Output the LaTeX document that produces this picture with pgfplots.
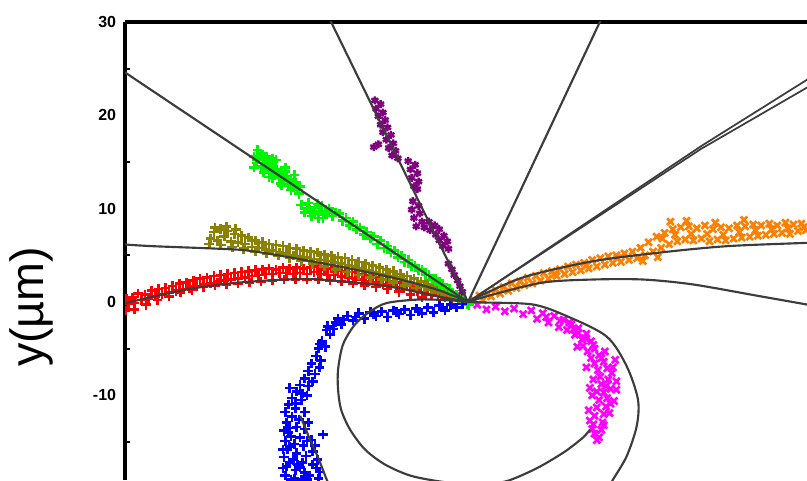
\documentclass[border=0pt]{standalone}
\usepackage{fontspec}
\setmainfont{Liberation Sans}
\usepackage{pgfplots}
\pgfplotsset{compat=1.18}
\definecolor{cRed}{RGB}{255,0,0}
\definecolor{cOlive}{RGB}{140,130,0}
\definecolor{cGreen}{RGB}{0,245,0}
\definecolor{cPurple}{RGB}{128,0,128}
\definecolor{cBlue}{RGB}{0,0,255}
\definecolor{cMag}{RGB}{255,0,255}
\definecolor{cOrange}{RGB}{255,128,0}
\definecolor{cFit}{RGB}{60,60,60}
\begin{document}
\begin{tikzpicture}
\begin{axis}[
  at={(93.75pt,0pt)}, anchor=south west,
  scale only axis, width=511.5pt, height=343.5pt,
  xmin=-29.83, xmax=29.48, ymin=-19.07, ymax=30,
  axis x line*=top, axis y line*=left,
  axis line style={-, line width=2.4pt, black},
  xtick=\empty, minor xtick={-25,-15,-5,5,15,25},
  ytick={-10,0,10,20,30}, yticklabels={-10,0,10,20,30},
  minor ytick={-15,-5,5,15,25},
  major tick length=0pt, minor tick length=4pt,
  tick align=inside,
  every tick/.style={black, line width=1.5pt},
  minor tick style={black, line width=1.5pt},
  yticklabel style={font=\fontsize{12}{12}\selectfont\bfseries, inner sep=0pt, xshift=-6.5pt},
  ylabel={y(µm)},
  ylabel style={at={(axis description cs:-0.137,0.378)}, anchor=center, font=\fontsize{35}{35}\selectfont},
  clip marker paths=true,
]
% red
\addplot[only marks, mark=+, mark size=3.6pt, cRed, mark options={line width=2pt}] coordinates {
(-29.8,-0.9)(-29.7,0.3)(-29.5,-0.2)(-29.2,0.5)(-29.0,-0.1)(-28.7,0.9)(-28.4,0.2)(-28.1,0.8)(-27.8,0.4)(-27.5,1.2)
(-27.2,0.6)(-26.9,1.4)(-26.6,0.8)(-26.3,1.5)(-26.0,1.0)(-25.7,1.7)(-25.4,1.2)(-25.1,2.0)(-24.8,1.4)(-24.5,2.1)
(-24.2,1.5)(-23.9,2.3)(-23.6,1.7)(-23.3,2.5)(-23.0,1.9)(-22.7,2.6)(-22.4,2.0)(-22.1,2.8)(-21.8,2.1)(-21.5,2.9)
(-21.2,2.3)(-20.9,3.0)(-20.6,2.4)(-20.3,3.1)(-20.0,2.5)(-19.7,3.2)(-19.4,2.6)(-19.1,3.3)(-18.8,2.8)(-18.5,3.4)
(-18.2,2.9)(-17.9,3.5)(-17.6,3.0)(-17.3,3.6)(-17.0,3.0)(-16.7,3.5)(-16.4,3.1)(-16.1,3.7)(-15.8,3.1)(-15.5,3.6)
(-15.2,3.0)(-14.9,3.7)(-14.6,3.1)(-14.3,3.6)(-14.0,3.0)(-13.7,3.7)(-13.4,3.2)(-13.1,3.8)(-12.8,3.0)(-12.5,3.5)
(-12.2,2.9)(-11.9,3.6)(-11.6,2.9)(-11.3,3.4)(-11.0,2.7)(-10.7,3.3)(-10.4,2.6)(-10.1,3.2)(-9.8,2.5)(-9.5,3.0)
(-9.2,2.4)(-8.9,2.9)(-8.6,2.2)(-8.3,2.7)(-8.0,2.1)(-7.7,2.6)(-7.4,1.9)(-7.1,2.4)(-6.8,1.8)(-6.5,2.2)
(-6.2,1.6)(-5.9,2.1)(-5.6,1.5)(-5.3,1.9)(-5.0,1.3)(-4.7,1.8)(-4.4,1.2)(-4.1,1.6)(-3.8,1.0)(-3.5,1.4)
(-3.2,0.8)(-2.9,1.2)(-2.6,0.7)(-2.3,1.0)(-2.0,0.5)(-1.7,0.8)(-1.4,0.3)(-1.1,0.6)(-0.8,0.2)(-0.5,0.3)
(-29.0,-0.8)(-28.0,-0.3)(-27.0,0.2)(-26.0,0.6)(-25.0,1.0)(-24.0,1.3)(-23.0,1.6)(-22.0,1.8)(-21.0,1.9)(-20.0,2.0)
(-19.0,2.1)(-18.0,2.2)(-17.0,2.3)(-16.0,2.4)(-15.0,2.4)(-14.0,2.4)(-13.0,2.4)(-12.0,2.3)(-11.0,2.2)(-10.0,2.0)
(-9.0,1.8)(-8.0,1.6)(-7.0,1.4)(-6.0,1.1)(-5.0,0.8)(-4.0,0.5)
};
% olive
\addplot[only marks, mark=+, mark size=3.6pt, cOlive, mark options={line width=2pt}] coordinates {
(-22.4,6.8)(-22.1,7.5)(-21.8,6.6)(-21.5,7.8)(-21.2,7.0)(-20.9,7.6)(-20.6,6.5)(-20.3,7.3)(-20.0,6.4)(-19.7,7.1)
(-19.4,6.2)(-19.1,6.9)(-18.8,5.9)(-18.5,6.6)(-18.2,5.8)(-17.9,6.4)(-17.6,5.6)(-17.3,6.2)(-17.0,5.5)(-16.7,6.1)
(-16.4,5.3)(-16.1,6.0)(-15.8,5.2)(-15.5,5.8)(-15.2,5.0)(-14.9,5.7)(-14.6,4.9)(-14.3,5.5)(-14.0,4.8)(-13.7,5.4)
(-13.4,4.6)(-13.1,5.3)(-12.8,4.5)(-12.5,5.1)(-12.2,4.4)(-11.9,5.0)(-11.6,4.2)(-11.3,4.8)(-11.0,4.1)(-10.7,4.7)
(-10.4,3.9)(-10.1,4.5)(-9.8,3.8)(-9.5,4.3)(-9.2,3.6)(-8.9,4.1)(-8.6,3.4)(-8.3,3.9)(-8.0,3.2)(-7.7,3.7)
(-7.4,3.0)(-7.1,3.5)(-6.8,2.8)(-6.5,3.3)(-6.2,2.6)(-5.9,3.0)(-5.6,2.4)(-5.3,2.8)(-5.0,2.1)(-4.7,2.5)
(-4.4,1.9)(-4.1,2.2)(-3.8,1.6)(-3.5,1.9)(-3.2,1.3)(-2.9,1.6)(-2.6,1.0)(-2.3,1.3)(-2.0,0.8)(-1.7,1.0)
(-1.4,0.6)(-1.1,0.7)(-0.8,0.3)
(-22.5,6.2)(-21.5,6.1)(-20.5,5.9)(-19.5,5.7)(-18.5,5.4)(-17.5,5.2)(-16.5,5.0)(-15.5,4.7)(-14.5,4.4)(-13.5,4.1)
(-12.5,3.8)(-11.5,3.5)(-10.5,3.2)(-9.5,2.9)(-8.5,2.6)(-7.5,2.4)(-6.5,2.1)(-5.5,1.8)(-4.5,1.5)
(-22.0,8.0)(-21.0,8.1)(-20.2,7.8)
};
% green
\addplot[only marks, mark=+, mark size=3.6pt, cGreen, mark options={line width=2pt}] coordinates {
(-18.6,15.6)(-18.4,14.9)(-18.2,15.4)(-18.0,14.5)(-17.8,15.2)(-17.6,14.2)(-17.4,14.9)(-17.2,13.9)(-17.0,14.5)(-16.8,13.6)
(-16.6,14.2)(-16.4,13.3)(-16.2,13.8)(-16.0,13.0)(-15.8,13.5)(-15.6,12.6)(-15.4,13.1)(-15.2,12.3)(-15.0,12.8)(-14.8,12.0)
(-14.6,12.4)(-17.9,15.8)(-16.9,15.0)(-15.9,14.0)(-17.3,13.4)(-16.3,12.7)
(-18.4,15.2)(-17.5,14.6)(-16.6,13.9)(-15.7,13.0)(-14.9,12.5)(-18.0,15.9)(-17.0,15.3)
(-18.3,16.3)(-17.5,15.6)(-16.7,15.2)(-15.9,14.4)(-15.1,13.6)(-18.6,14.4)(-17.8,13.9)(-17.0,13.3)(-16.2,12.5)(-15.4,12.0)(-14.7,11.6)
(-14.5,10.4)(-14.2,9.6)(-13.9,10.6)(-13.6,9.2)(-13.3,10.1)(-13.0,9.0)(-12.7,10.3)(-12.4,9.4)(-12.1,10.0)(-11.8,9.2)
(-13.8,9.9)(-12.9,9.7)(-12.2,9.6)(-11.5,9.6)(-14.0,10.0)(-13.4,9.5)(-12.6,9.0)(-13.1,10.5)
(-11.2,9.5)(-10.9,8.7)(-10.6,9.0)(-10.3,8.2)(-10.0,8.6)(-9.7,7.8)(-9.4,8.0)(-9.1,7.2)(-8.8,7.5)(-8.5,6.8)
(-8.2,7.0)(-7.9,6.2)(-7.6,6.6)(-7.3,5.8)(-7.0,6.0)(-6.7,5.3)(-6.4,5.5)(-6.1,4.8)(-5.8,5.0)(-5.5,4.3)
(-5.2,4.5)(-4.9,3.8)(-4.6,3.9)(-4.3,3.4)(-4.0,3.5)(-3.7,2.9)(-3.4,2.9)(-3.1,2.4)(-2.8,2.5)(-2.5,1.9)
(-2.2,1.9)(-1.9,1.4)(-1.6,1.4)(-1.3,0.9)(-1.0,0.8)(-0.7,0.4)(-0.4,0.2)(-0.1,-0.2)(0.1,-0.3)
};
% purple
\addplot[only marks, mark=asterisk, mark size=3pt, cPurple, mark options={line width=1.8pt}] coordinates {
(-8.1,21.6)(-7.6,21.2)(-8.0,20.7)(-7.4,20.3)(-7.8,19.9)(-7.2,19.5)
(-7.6,19.0)(-7.0,18.7)(-7.4,18.2)(-6.7,17.9)(-7.1,17.4)(-6.5,17.0)(-6.9,16.5)(-6.3,16.2)(-6.6,15.7)(-8.2,16.6)(-7.8,16.9)(-6.1,15.4)
(-5.2,15.1)(-4.6,14.7)(-5.0,14.2)(-4.4,13.8)(-4.9,13.3)(-4.3,12.9)(-4.7,12.4)(-4.4,12.1)
(-4.8,10.8)(-4.3,10.3)(-4.9,9.9)(-4.2,9.5)(-4.7,9.0)(-4.0,8.6)(-4.5,8.1)(-3.8,8.0)
(-3.4,8.6)(-2.9,8.2)(-3.3,7.7)(-2.5,7.8)(-2.8,7.2)(-2.1,7.1)(-2.5,6.6)(-1.8,6.5)(-2.2,6.0)(-1.7,5.7)
(-1.7,4.1)(-1.4,3.5)(-1.2,2.9)(-0.9,2.3)(-0.7,1.7)(-0.5,1.1)
};
% orange
\addplot[only marks, mark=x, mark size=3.6pt, cOrange, mark options={line width=2pt}] coordinates {
(0.5,0.2)(1.0,0.7)(1.3,0.2)(1.7,0.9)(2.0,0.6)(2.4,1.3)(2.8,0.9)(3.1,1.6)(3.5,1.2)(3.8,2.0)
(4.2,1.5)(4.5,2.2)(4.9,1.8)(5.2,2.6)(5.6,2.0)(5.9,2.8)(6.3,2.3)(6.6,3.1)(7.0,2.5)(7.3,3.3)
(7.7,2.8)(8.0,3.5)(8.4,3.0)(8.7,3.8)(9.1,3.2)(9.4,4.0)(9.8,3.4)(10.1,4.2)(10.5,3.6)(10.8,4.5)
(11.2,3.8)(11.5,4.7)(11.9,4.0)(12.2,4.9)(12.6,4.2)(12.9,5.0)(13.3,4.3)(13.6,5.2)(14.0,4.5)(14.3,5.4)
(14.7,4.7)(15.0,5.8)(15.4,5.0)(15.7,6.4)(16.1,5.4)(16.4,7.0)(16.8,5.8)(17.1,7.4)(17.5,6.2)(17.8,7.8)
(18.2,6.5)(18.5,8.0)(18.9,6.7)(19.2,8.1)(19.6,6.6)(19.9,7.9)(20.3,6.8)(20.6,8.2)(21.0,6.5)(21.3,7.8)
(21.7,6.7)(22.0,8.0)(22.4,6.6)(22.7,7.9)(23.1,6.8)(23.4,8.2)(23.8,6.9)(24.1,8.1)(24.5,7.0)(24.8,8.3)
(25.2,7.1)(25.5,8.2)(25.9,7.2)(26.2,8.4)(26.6,7.3)(26.9,8.2)(27.3,7.4)(27.6,8.5)(28.0,7.3)(28.3,8.3)
(28.7,7.6)(29.0,8.4)(29.4,7.7)(16.5,4.8)(15.2,4.4)
(16.9,6.8)(18.0,7.2)(19.4,7.3)(20.8,7.3)(22.2,7.2)(23.6,7.5)(25.0,7.7)(26.4,7.8)(27.8,7.9)(29.2,8.0)
(13.0,4.7)(10.3,3.9)(7.5,3.0)(17.6,8.6)(19.0,8.7)(21.5,8.5)(24.0,8.8)
};
% blue
\addplot[only marks, mark=+, mark size=3.6pt, cBlue, mark options={line width=2pt}] coordinates {
(-0.5,-0.2)(-1.0,-0.6)(-1.5,-0.3)(-2.0,-0.9)(-2.5,-0.4)(-3.0,-1.1)(-3.5,-0.6)(-4.0,-1.2)(-4.5,-0.7)(-5.0,-1.4)
(-5.5,-0.8)(-6.0,-1.3)(-6.5,-0.9)(-7.0,-1.6)(-7.5,-1.0)(-8.0,-1.5)(-8.5,-1.1)(-9.0,-1.8)(-9.5,-1.2)(-10.0,-2.0)
(-10.5,-1.5)(-11.0,-2.4)(-11.3,-1.8)(-11.7,-2.9)(-12.0,-3.5)(-12.3,-3.0)(-12.7,-4.2)(-12.4,-4.8)(-13.0,-5.0)(-13.2,-5.8)
(-12.8,-6.3)(-13.6,-6.6)(-13.9,-7.4)(-13.3,-7.7)(-14.2,-8.2)(-14.6,-8.9)(-13.9,-9.0)(-14.9,-9.6)(-15.3,-10.3)(-14.5,-10.5)
(-15.6,-11.0)(-15.0,-11.4)(-15.9,-11.8)(-15.3,-12.3)(-14.7,-12.6)(-15.8,-12.9)(-14.9,-13.4)(-14.2,-13.6)(-15.6,-14.0)(-14.6,-14.5)
(-15.9,-14.9)(-15.1,-15.2)(-14.3,-15.4)(-15.7,-15.8)(-14.9,-16.2)(-16.0,-16.6)(-15.2,-16.9)(-14.4,-17.2)(-15.8,-17.6)(-15.0,-18.0)
(-14.2,-18.3)(-15.9,-18.6)(-15.1,-18.9)(-14.5,-19.0)(-13.2,-17.8)(-13.0,-18.9)(-13.5,-16.0)(-13.6,-14.8)(-12.6,-14.2)(-13.8,-18.6)
(-15.5,-9.2)(-14.0,-10.0)(-15.0,-10.9)(-14.2,-11.8)(-15.5,-13.5)(-13.9,-12.9)(-14.0,-14.9)(-15.5,-15.5)(-14.1,-16.5)(-15.5,-17.2)
(-14.6,-17.7)(-14.0,-19.0)(-15.4,-19.0)(-13.5,-17.4)(-13.1,-16.9)(-12.9,-4.5)(-11.5,-2.2)(-12.2,-2.6)(-10.8,-1.9)(-9.8,-1.6)
(-8.2,-1.3)(-6.2,-1.1)(-4.3,-1.0)(-2.2,-0.6)(-12.9,-7.0)(-14.4,-9.8)(-13.5,-8.5)
(-16.0,-13.8)(-16.1,-15.8)(-16.1,-17.8)(-13.3,-15.4)(-12.9,-18.2)(-14.8,-17.4)(-15.4,-14.4)
};
% magenta
\addplot[only marks, mark=x, mark size=3.6pt, cMag, mark options={line width=2pt}] coordinates {
(0.8,-0.3)(1.6,-0.8)(2.4,-0.5)(3.2,-1.0)(4.0,-0.7)(4.8,-1.3)(5.5,-0.9)(6.0,-1.8)(6.5,-1.2)(7.0,-2.2)
(7.5,-1.5)(7.9,-2.7)(8.3,-1.9)(8.6,-3.0)(9.0,-2.4)(9.3,-3.5)(9.6,-2.8)(9.9,-4.0)(10.3,-3.4)(10.0,-4.7)
(10.7,-4.2)(10.4,-5.3)(11.0,-5.0)(10.7,-6.0)(11.4,-5.7)(11.0,-6.6)(11.8,-6.4)(11.3,-7.3)(12.1,-7.1)(11.5,-8.0)
(12.2,-8.3)(11.6,-8.8)(12.4,-9.3)(11.8,-9.7)(12.1,-10.3)(11.4,-10.5)(12.0,-11.2)(11.2,-11.3)(11.8,-12.0)(11.0,-12.2)
(11.7,-12.9)(10.9,-13.1)(11.6,-13.7)(11.0,-14.1)(11.4,-14.5)(10.8,-13.6)(12.5,-7.6)(10.2,-3.9)(8.8,-2.2)
(9.5,-4.8)(12.8,-6.2)(10.3,-7.0)(12.9,-8.5)(10.6,-9.2)(12.7,-10.6)(10.5,-11.6)(12.3,-11.9)
(11.2,-9.6)(12.9,-9.4)(10.9,-8.3)(12.6,-7.0)(11.6,-6.0)(10.8,-10.0)(11.2,-14.8)(11.8,-13.2)(10.6,-12.7)(12.4,-10.9)
(9.6,-3.3)(8.0,-2.0)(10.9,-4.6)(6.8,-1.6)(9.2,-2.9)(12.0,-9.0)(11.9,-5.3)
};
% fitted curves
\addplot[cFit, line width=1.6pt] coordinates {(0,0)(-35,28.86)};
\addplot[cFit, line width=1.6pt] coordinates {(0,0)(-12.5,31.5)};
\addplot[cFit, line width=1.6pt] coordinates {(0,0)(12,31.4)};
\addplot[cFit, line width=1.3pt] coordinates {(0,0)(20.26,16.69)(30.5,24.6)};
\addplot[cFit, line width=1.3pt] coordinates {(0,0)(20.26,16.4)(30.5,23.7)};
\addplot[cFit, line width=1.6pt, smooth] coordinates {(-30.5,6.2)(-29.83,6.16)(-27.39,5.98)(-21.57,5.70)(-18.7,5.44)(-12.87,4.20)(-7.07,2.76)(-2.72,1.34)(0,0)};
\addplot[cFit, line width=1.6pt, smooth] coordinates {(-30.5,-0.5)(-29.68,-0.09)(-24.46,1.34)(-20.11,2.06)(-15.77,2.41)(-12.87,2.41)(-7.07,1.69)(-2.72,0.62)(0,0)};
\addplot[cFit, line width=1.6pt, smooth] coordinates {(0,0)(1.63,0.99)(5.10,2.76)(10.87,4.37)(16.70,5.30)(22.50,5.98)(29.48,6.34)(30.5,6.4)};
\addplot[cFit, line width=1.6pt, smooth] coordinates {(0,0)(2.17,0.80)(6.52,2.09)(10.87,2.41)(15.22,2.41)(19.57,1.88)(25.39,0.62)(29.48,-0.27)(30.5,-0.5)};
\addplot[cFit, line width=1.6pt, smooth] coordinates {(0,0)(-1.3,0.16)(-4.17,0.27)(-7.04,-0.1)(-8.52,-1.02)(-9.83,-2.41)(-10.87,-4.55)(-11.30,-7.23)(-11.30,-9.38)(-11.04,-11.52)(-10.26,-13.66)(-8.96,-15.8)(-7.22,-17.41)(-5.04,-18.59)(-2.43,-19.23)(0,-19.5)(2.78,-19.34)(4.23,-18.8)(6.26,-17.63)(8.43,-16.02)(10.0,-14.52)(10.61,-13.66)};
\addplot[cFit, line width=1.6pt, smooth] coordinates {(0,0)(1.3,-0.05)(5.65,-0.27)(8.61,-1.52)(12.06,-3.70)(13.8,-6.88)(14.78,-10.45)(14.67,-13.3)(13.8,-16.52)(12.61,-19.02)(12.43,-19.45)};
\addplot[cFit, line width=1.6pt, smooth] coordinates {(-14.6,-12.2)(-14.35,-12.91)(-13.74,-14.73)(-13.04,-16.66)(-12.29,-19.02)(-12.1,-19.5)};
\end{axis}
\pgfresetboundingbox
\path[use as bounding box] (0,0) rectangle (605.25pt,360pt);
\end{tikzpicture}
\end{document}
